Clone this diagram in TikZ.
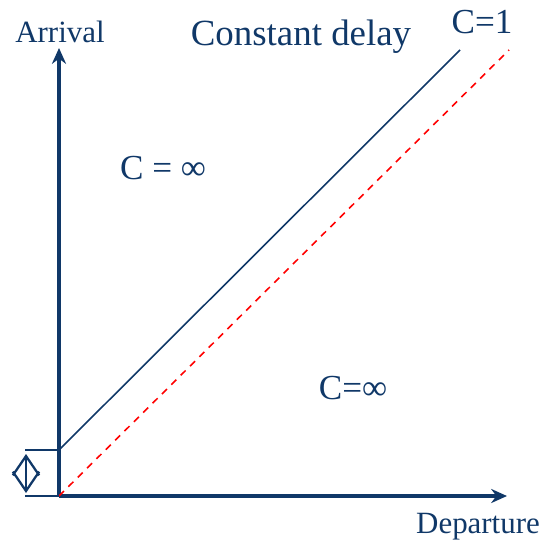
\documentclass[tikz,border=0pt]{standalone}
\usepackage{fontspec}
\setmainfont{Liberation Serif}
\usetikzlibrary{arrows.meta}
\definecolor{navy}{RGB}{16,56,104}

\begin{document}
\begin{tikzpicture}[x=0.02cm, y=-0.02cm,
  axis/.style={line width=2.2pt, navy, -{Stealth[length=9pt, width=8pt]}},
  delayline/.style={line width=0.9pt, navy},
  ideal/.style={line width=0.9pt, red, dash pattern=on 4pt off 3.5pt},
  tick/.style={line width=1.3pt, navy},
  lbl/.style={text=navy, inner sep=0pt},
  bigfont/.style={font=\fontsize{20}{24}\selectfont},
  smallfont/.style={font=\fontsize{17.6}{21}\selectfont}]
  \useasboundingbox (0,0) rectangle (542,546);
  % axes
  \coordinate (O) at (59,496);
  \coordinate (ytop) at (59,48);
  \coordinate (xend) at (507,496);
  \coordinate (d0) at (59,450);
  \coordinate (d1) at (460,50);
  \coordinate (c1) at (509,50);
  \draw[axis] (O) -- (ytop);
  \draw[axis] (O) -- (xend);
  % lines
  \draw[delayline] (d0) -- (d1);
  \draw[ideal] (O) -- (c1);
  % offset marker
  \coordinate (t1) at (25,450);
  \coordinate (t2) at (25,496);
  \coordinate (a1) at (26,454);
  \coordinate (a2) at (26,493);
  \draw[tick] (t1) -- (d0);
  \draw[tick] (t2) -- (O);
  \draw[tick, {Straight Barb[length=11pt, width=15pt]}-{Straight Barb[length=11pt, width=15pt]}] (a1) -- (a2);
  % labels
  \node[lbl, smallfont] (arrival) at (60,32) {Arrival};
  \node[lbl, smallfont] (departure) at (478,527) {Departure};
  \node[lbl, font=\fontsize{21}{25}\selectfont] (title) at (301,37) {Constant delay};
  \node[lbl, bigfont] (cone) at (482,22) {C=1};
  \node[lbl, bigfont] (cinfa) at (163,168) {C = ∞};
  \node[lbl, bigfont] (cinfb) at (353,388) {C=∞};
\end{tikzpicture}
\end{document}
